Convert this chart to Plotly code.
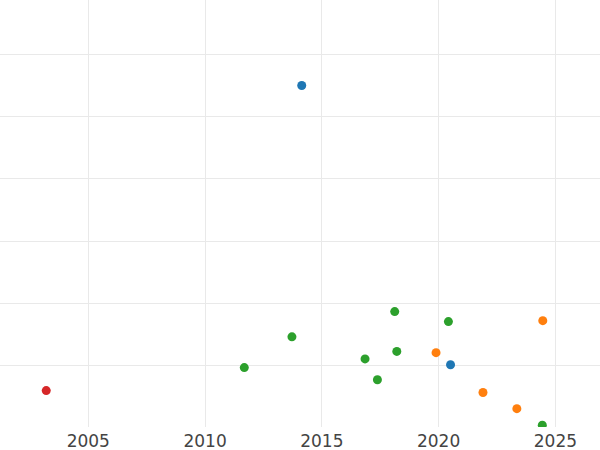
import plotly.graph_objects as go

# Data (year, value) by colour group
blue_x = [2014.14, 2020.51]
blue_y = [55.0, 10.1]
orange_x = [2019.89, 2021.90, 2023.35, 2024.46]
orange_y = [12.05, 5.65, 3.05, 17.2]
green_x = [2011.68, 2013.72, 2016.85, 2017.38, 2018.12, 2018.21, 2020.42, 2024.44]
green_y = [9.65, 14.6, 11.05, 7.7, 18.65, 12.25, 17.05, 0.4]
red_x = [2003.20]
red_y = [5.95]

x_ticks = [2005, 2010, 2015, 2020, 2025]

fig = go.Figure()
for xs, ys, col in [(blue_x, blue_y, "#1f77b4"), (orange_x, orange_y, "#ff7f0e"),
                    (green_x, green_y, "#2ca02c"), (red_x, red_y, "#d62728")]:
    fig.add_trace(go.Scatter(x=xs, y=ys, mode="markers",
                             marker=dict(color=col, size=9, line=dict(width=0)),
                             showlegend=False))

fig.update_layout(
    width=600, height=450,
    template="none",
    paper_bgcolor="white", plot_bgcolor="white",
    margin=dict(l=0, r=0, t=0, b=23, pad=0),
    font=dict(family="DejaVu Sans", size=17, color="#444444"),
    showlegend=False,
)
fig.update_xaxes(range=[2001.22, 2026.91], tickvals=x_ticks, ticktext=[str(t) for t in x_ticks],
                 showgrid=True, gridcolor="#e9e9e9", gridwidth=1, zeroline=False,
                 showline=False, ticks="", automargin=False, ticklabelstandoff=2)
fig.update_yaxes(range=[0.1, 68.75], dtick=10, showticklabels=False,
                 showgrid=True, gridcolor="#e9e9e9", gridwidth=1, zeroline=False,
                 showline=False, ticks="", automargin=False)

fig.write_html("out.html", config={"displayModeBar": False},
               post_script="document.body.style.margin='0';")
